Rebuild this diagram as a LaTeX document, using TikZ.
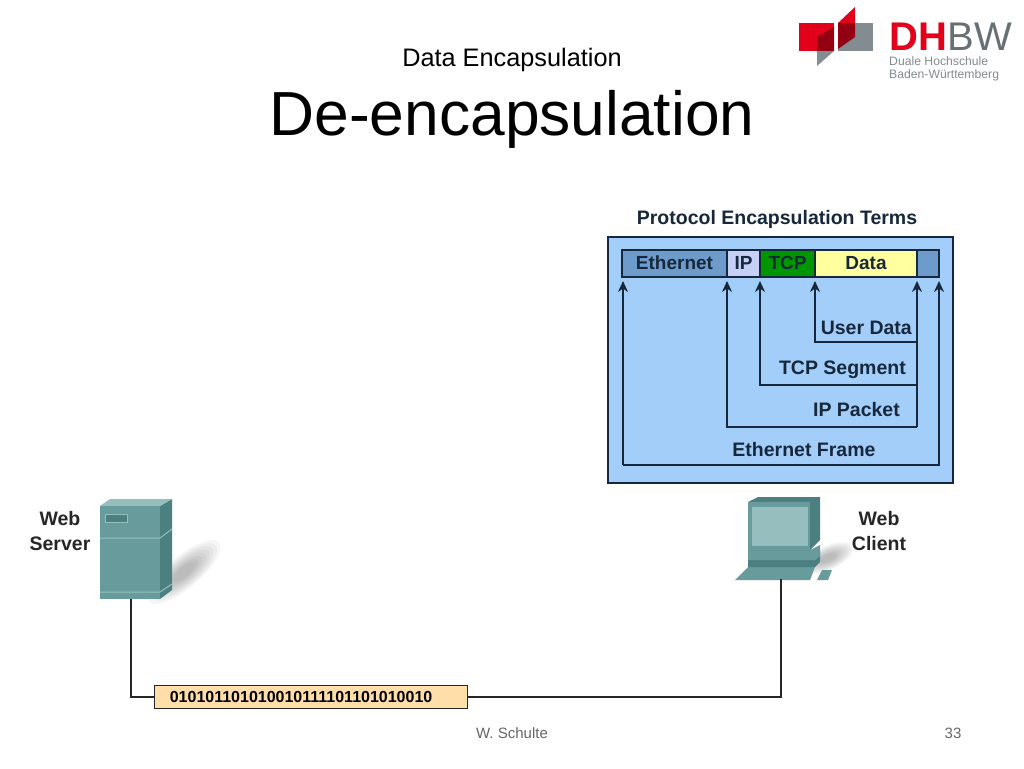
\documentclass[tikz,border=0pt]{standalone}
\usepackage{fontspec}
\setmainfont{Liberation Sans}
\usepackage{xcolor}
\usetikzlibrary{arrows.meta, positioning, calc}
\definecolor{cPanel}{RGB}{163,206,250}
\definecolor{cFrame}{RGB}{24,40,60}
\definecolor{cEth}{RGB}{108,155,204}
\definecolor{cIp}{RGB}{198,208,245}
\definecolor{cTcp}{RGB}{0,150,0}
\definecolor{cData}{RGB}{255,255,160}
\definecolor{cBits}{RGB}{255,222,170}
\definecolor{cTeal}{RGB}{104,156,156}
\definecolor{cTealD}{RGB}{76,128,128}
\definecolor{cTealL}{RGB}{150,190,190}
\definecolor{cRed}{RGB}{226,0,26}
\definecolor{cGrey}{RGB}{130,140,145}
\tikzset{
	hdrcell/.style={draw=cFrame, line width=1.2pt, minimum height=27pt, inner sep=0pt, outer sep=0pt, text height=13pt, text depth=2pt, font=\bfseries\fontsize{19}{19}\selectfont, text=cFrame},
	termlabel/.style={font=\bfseries\fontsize{19.5}{19.5}\selectfont, text=cFrame, inner sep=0pt},
	termline/.style={draw=cFrame, line width=2pt, -{Stealth[length=11pt,width=10pt]}},
	hostlabel/.style={font=\bfseries\fontsize{19.5}{25}\selectfont, text=black!85, align=center, inner sep=0pt},
	cable/.style={draw=black!85, line width=2pt},
	softshadow/.style={fill=black, opacity=0.035},
}
\begin{document}
\begin{tikzpicture}[x=1pt, y=-1pt]
	\useasboundingbox (0,0) rectangle (1024,768);
	\fill[white] (0,0) rectangle (1024,768);
	% titles
	\node[font=\fontsize{25.3}{25.3}\selectfont, inner sep=0pt] (subttl) at (512,60) {Data Encapsulation};
	\node[font=\fontsize{62.3}{62.3}\selectfont, inner sep=0pt, below=18pt of subttl] (ttl) {De-encapsulation};
	% logo
	\fill[cRed] (799,23) rectangle (834,51);
	\fill[cGrey] (838,23) rectangle (873,51);
	\fill[cGrey] (817,51) -- (834,51) -- (817,66) -- cycle;
	\fill[cRed!65!black] (817,37) -- (834,27) -- (834,51) -- (817,51) -- cycle;
	\fill[cRed!65!black] (838,23) -- (855,23) -- (855,37) -- (838,49) -- cycle;
	\fill[cRed] (838,23) -- (855,7) -- (855,23) -- cycle;
	\node[font=\bfseries\fontsize{40}{40}\selectfont, text=cRed, inner sep=0pt, anchor=west] (logodh) at (889,37) {DH};
	\node[font=\fontsize{40}{40}\selectfont, text=cGrey!80!black, inner sep=0pt, right=0pt of logodh] (logobw) {BW};
	\node[font=\fontsize{12.2}{13.5}\selectfont, text=cGrey, align=left, inner sep=0pt, anchor=north west] (logotxt) at (889,56) {Duale Hochschule\\Baden-Württemberg};
	% terms panel
	\node[font=\bfseries\fontsize{19.5}{19.5}\selectfont, text=cFrame, inner sep=0pt] (termttl) at (777,219.5) {Protocol Encapsulation Terms};
	\fill[cPanel, draw=cFrame, line width=1.2pt] (608,237) rectangle (953,483);
	\node[hdrcell, fill=cEth, minimum width=105pt, anchor=north west] (eth) at (622,250) {Ethernet};
	\node[hdrcell, fill=cIp, minimum width=33pt, right=0pt of eth] (ip) {IP};
	\node[hdrcell, fill=cTcp, minimum width=55pt, right=0pt of ip] (tcp) {TCP};
	\node[hdrcell, fill=cData, minimum width=102pt, right=0pt of tcp] (dat) {Data};
	\node[hdrcell, fill=cEth, minimum width=22pt, right=0pt of dat] (trl) {};
	\node[termlabel, anchor=east] (udata) at (912,328) {User Data};
	\node[termlabel, anchor=east] (tcpseg) at (906,369.5) {TCP Segment};
	\node[termlabel, anchor=east] (ippkt) at (900,410) {IP Packet};
	\node[termlabel] (ethfrm) at (804,450) {Ethernet Frame};
	\coordinate (dtip) at ($(dat.south east)+(0,4)$);
	\coordinate (ubase) at ($(dat.south east)+(0,65)$);
	\coordinate (tbase) at ($(dat.south east)+(0,108)$);
	\coordinate (ibase) at ($(dat.south east)+(0,150)$);
	\coordinate (ebase) at ($(eth.south west)+(1,188)$);
	\draw[termline] (ibase) -- (dtip);
	\draw[termline] (ubase) -| ($(dat.south west)+(0,4)$);
	\draw[termline] (tbase) -| ($(tcp.south west)+(0,4)$);
	\draw[termline] (ibase) -| ($(ip.south west)+(0,4)$);
	\draw[termline] (ebase) -- ($(eth.south west)+(1,4)$);
	\draw[termline] (ebase) -| ($(trl.south east)+(0,4)$);
	% server
	\foreach \r in {1,0.9,...,0.2}
		\path[softshadow, rotate around={40:(184,572)}] (184,572) ellipse ({46*\r} and {16*\r});
	\fill[cTealD] (160,506) -- (172,499) -- (172,590) -- (160,599) -- cycle;
	\fill[cTealL] (100,506) -- (110,499) -- (172,499) -- (160,506) -- cycle;
	\node[fill=cTeal, minimum width=60pt, minimum height=93pt, inner sep=0pt, anchor=north west] (srv) at (100,506) {};
	\draw[cTealL, line width=1pt] (100,538) -- (160,538) -- (172,529);
	\draw[cTealL, line width=1pt] (100,592) -- (160,592) -- (172,584);
	\draw[cTealL, fill=cTealD, line width=1pt] (105,514) rectangle (127,522);
	\node[hostlabel, anchor=center] (srvlbl) at (60,531) {Web\\Server};
	% client
	\foreach \r in {1,0.9,...,0.2}
		\path[softshadow, rotate around={25:(828,558)}] (828,558) ellipse ({28*\r} and {12*\r});
	\fill[cTeal] (735,580) -- (748,567) -- (815,567) -- (810,580) -- cycle;
	\fill[cTeal] (817,580) -- (822,570) -- (832,570) -- (828,580) -- cycle;
	\fill[cTealD] (748,556) -- (820,552) -- (820,562) -- (815,567) -- (748,567) -- cycle;
	\fill[cTeal] (748,550) -- (810,550) -- (820,545) -- (820,556) -- (815,560) -- (748,560) -- cycle;
	\fill[cTealD] (748,502) -- (758,497) -- (820,497) -- (820,540) -- (810,550) -- (748,550) -- cycle;
	\node[fill=cTeal, minimum width=62pt, minimum height=48pt, inner sep=0pt, anchor=north west] (cli) at (748,502) {};
	\fill[cTealL] (752,507) rectangle (808,546);
	\coordinate (kbd) at (781,579);
	\node[hostlabel, anchor=center] (clilbl) at (879,531) {Web\\Client};
	% bits on the wire
	\node[draw=black!85, line width=1.2pt, fill=cBits, minimum width=313pt, minimum height=23pt, inner sep=0pt, font=\bfseries\fontsize{16}{16}\selectfont, anchor=west] (bits) at (154,697) {\hspace{-20pt}010101101010010111101101010010};
	\draw[cable] ([xshift=1pt]srv.south) |- (bits.west);
	\draw[cable] (bits.east) -| (kbd);
	% footer
	\node[font=\fontsize{15}{15}\selectfont, text=black!60, inner sep=0pt] (ftr) at (512,733) {W. Schulte};
	\node[font=\fontsize{15}{15}\selectfont, text=black!60, inner sep=0pt] (pgno) at (953,733) {33};
\end{tikzpicture}
\end{document}
